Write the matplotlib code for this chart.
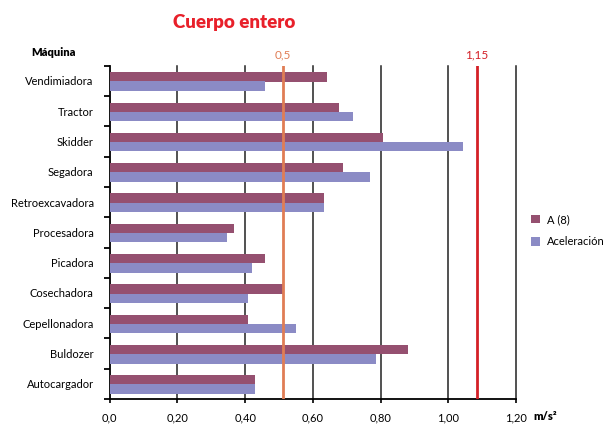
import matplotlib.pyplot as plt
import numpy as np

# Datos: vibración de cuerpo entero por máquina
maquinas = ["Vendimiadora", "Tractor", "Skidder", "Segadora", "Retroexcavadora",
            "Procesadora", "Picadora", "Cosechadora", "Cepellonadora", "Buldozer",
            "Autocargador"]
a8 = [0.641, 0.677, 0.807, 0.689, 0.632, 0.367, 0.458, 0.511, 0.408, 0.880, 0.429]
aceleracion = [0.458, 0.718, 1.043, 0.768, 0.632, 0.346, 0.420, 0.408, 0.550, 0.786, 0.429]

x_ticks = [0.0, 0.2, 0.4, 0.6, 0.8, 1.0, 1.2]
x_labels = ["0,0", "0,20", "0,40", "0,60", "0,80", "1,00", "1,20"]

# Límites de referencia (escala superior propia)
limites = [0.5, 1.15]
limites_labels = ["0,5", "1,15"]

plt.rcParams['font.family'] = ['Lato', 'DejaVu Sans']

col_a8 = "#955070"
col_acel = "#8B8BC5"
col_lim = ["#E07D55", "#D42027"]

fig = plt.figure(figsize=(6.05, 4.24), dpi=100)
ax = fig.add_axes([0.1813, 0.059, 0.672, 0.786])

y = np.arange(len(maquinas))
h = 0.31
ax.barh(y - 0.13, a8, height=h, color=col_a8, label="A (8)", zorder=3)
ax.barh(y + 0.175, aceleracion, height=h, color=col_acel, label="Aceleración", zorder=3)

ax.set_ylim(len(maquinas) - 0.5, -0.5)
ax.set_xlim(0, 1.2)

# líneas verticales de la cuadrícula
for xv in x_ticks[1:]:
    ax.axvline(xv, color="#222222", lw=1.1, zorder=1, clip_on=False)

ax.set_xticks(x_ticks)
ax.set_xticklabels(x_labels, fontsize=8)
ax.set_yticks(y)
ax.set_yticklabels(maquinas, fontsize=8)
ax.set_yticks(np.arange(len(maquinas) + 1) - 0.5, minor=True)
ax.tick_params(axis="y", which="major", length=0, pad=11.5)
ax.tick_params(axis="y", which="minor", length=4, width=1.3, direction="out")
ax.tick_params(axis="x", which="major", length=3, width=1.2, pad=7)

for s in ["top", "right"]:
    ax.spines[s].set_visible(False)
ax.spines["left"].set_linewidth(1.3)
ax.spines["bottom"].set_linewidth(1.3)

# escala superior para los límites 0,5 y 1,15
a = (1.084 - 0.5105) / (1.15 - 0.5)
b = 0.5105 - a * 0.5
ax2 = ax.twiny()
ax2.set_xlim((0 - b) / a, (1.2 - b) / a)
for v, c in zip(limites, col_lim):
    ax2.axvline(v, color=c, lw=2.0, zorder=4)
ax2.set_xticks(limites)
ax2.set_xticklabels(limites_labels, fontsize=8.5)
for lbl, c in zip(ax2.get_xticklabels(), col_lim):
    lbl.set_color(c)
ax2.tick_params(axis="x", length=0, pad=4)
for s in ax2.spines.values():
    s.set_visible(False)

fig.text(0.3876, 0.946, "Cuerpo entero", color="#E8202A", fontsize=13.5,
         fontweight="heavy", ha="center", va="center")
fig.text(54 / 605, 1 - 52 / 424, "Máquina", fontsize=8, fontweight="heavy",
         ha="center", va="center")
fig.text(533 / 605, 1 - 416 / 424, "m/s²", fontsize=8, fontweight="heavy",
         ha="left", va="center")

ax.legend(loc="upper left", bbox_to_anchor=(531 / 605, 1 - 214 / 424),
          bbox_transform=fig.transFigure, frameon=False, fontsize=8,
          borderaxespad=0, borderpad=0, handlelength=0.8, handleheight=0.8,
          handletextpad=0.6, labelspacing=1.0)

fig.savefig("out.png", dpi=100)
